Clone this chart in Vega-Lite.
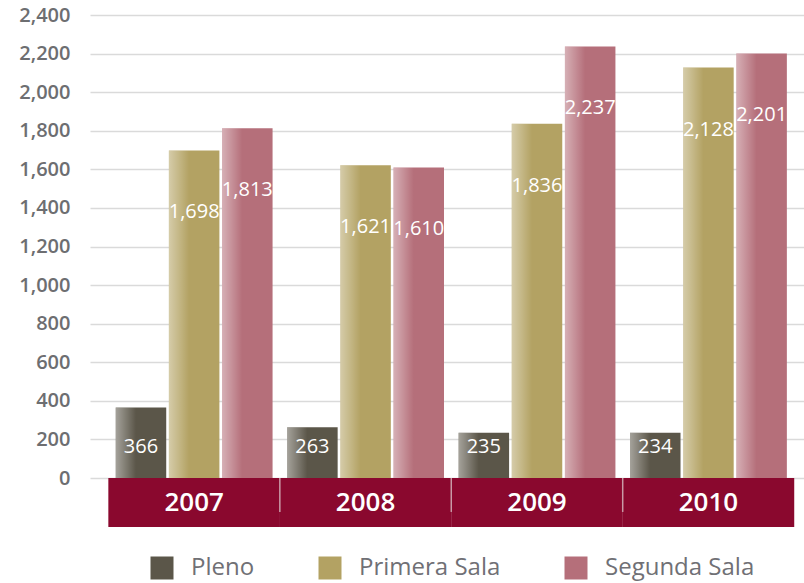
{
  "$schema": "https://vega.github.io/schema/vega-lite/v6.json",
  "width": 714,
  "height": 527,
  "autosize": {"type": "none"},
  "padding": {"left": 90, "top": 0, "right": 0, "bottom": 56},
  "config": {"view": {"stroke": null}, "font": "Open Sans"},
  "datasets": {
    "bars": [
      {"year": "2007", "sala": "Pleno", "casos": 366},
      {"year": "2007", "sala": "Primera Sala", "casos": 1698},
      {"year": "2007", "sala": "Segunda Sala", "casos": 1813},
      {"year": "2008", "sala": "Pleno", "casos": 263},
      {"year": "2008", "sala": "Primera Sala", "casos": 1621},
      {"year": "2008", "sala": "Segunda Sala", "casos": 1610},
      {"year": "2009", "sala": "Pleno", "casos": 235},
      {"year": "2009", "sala": "Primera Sala", "casos": 1836},
      {"year": "2009", "sala": "Segunda Sala", "casos": 2237},
      {"year": "2010", "sala": "Pleno", "casos": 234},
      {"year": "2010", "sala": "Primera Sala", "casos": 2128},
      {"year": "2010", "sala": "Segunda Sala", "casos": 2201}
    ],
    "years": [{"year": "2007"}, {"year": "2008"}, {"year": "2009"}, {"year": "2010"}]
  },
  "layer": [
    {
      "data": {"name": "years"},
      "mark": {"type": "bar", "color": "#8a082e", "width": {"band": 1.094}},
      "encoding": {
        "x": {"field": "year", "type": "nominal", "scale": {"paddingInner": 0.085, "paddingOuter": 0.125, "align": 0.6}, "axis": null},
        "y": {
          "datum": -254, "type": "quantitative",
          "scale": {"domain": [-254, 2478], "nice": false},
          "axis": {
            "values": [0, 200, 400, 600, 800, 1000, 1200, 1400, 1600, 1800, 2000, 2200, 2400],
            "labelExpr": "format(datum.value, ',')", "title": null, "domain": false, "ticks": false,
            "grid": true, "gridColor": "#dadada", "gridWidth": 1.5,
            "labelPadding": 20, "labelFontSize": 20, "labelFontWeight": 600,
            "labelColor": "#6d6e71", "labelFont": "Open Sans"
          }
        },
        "y2": {"datum": 0}
      }
    },
    {
      "data": {"name": "years"},
      "transform": [{"filter": "datum.year != '2007'"}],
      "mark": {"type": "rule", "color": "#c99aa6", "strokeWidth": 1.5, "xOffset": -7.3},
      "encoding": {
        "x": {"field": "year", "type": "nominal", "bandPosition": 0},
        "y": {"datum": -176, "type": "quantitative"},
        "y2": {"datum": 0}
      }
    },
    {
      "data": {"name": "years"},
      "mark": {"type": "text", "color": "white", "fontSize": 26, "fontWeight": 600, "baseline": "middle", "font": "Open Sans"},
      "encoding": {
        "x": {"field": "year", "type": "nominal"},
        "y": {"datum": -128, "type": "quantitative"},
        "text": {"field": "year"}
      }
    },
    {
      "data": {"name": "bars"},
      "mark": {"type": "bar"},
      "encoding": {
        "x": {"field": "year", "type": "nominal"},
        "xOffset": {"field": "sala", "sort": ["Pleno", "Primera Sala", "Segunda Sala"], "scale": {"paddingInner": 0.05}},
        "y": {"field": "casos", "type": "quantitative"},
        "y2": {"datum": 0},
        "color": {
          "field": "sala", "type": "nominal",
          "scale": {"domain": ["Pleno", "Primera Sala", "Segunda Sala"], "range": ["#5b5649", "#b3a263", "#b56f7a"]},
          "legend": {
            "title": null, "orient": "none", "direction": "horizontal",
            "legendX": 60, "legendY": 556, "padding": 0,
            "symbolType": "square", "symbolSize": 529, "symbolStrokeWidth": 0, "symbolOpacity": 1,
            "labelFontSize": 24, "labelColor": "#707075", "labelFont": "Open Sans",
            "labelOffset": 17, "columnPadding": 63
          }
        }
      }
    },
    {
      "data": {"name": "bars"},
      "mark": {
        "type": "bar",
        "fill": {"gradient": "linear", "x1": 0, "x2": 1, "y1": 0, "y2": 0,
          "stops": [{"offset": 0, "color": "rgba(255,255,255,0.45)"}, {"offset": 0.4, "color": "rgba(255,255,255,0)"}]}
      },
      "encoding": {
        "x": {"field": "year", "type": "nominal"},
        "xOffset": {"field": "sala", "sort": ["Pleno", "Primera Sala", "Segunda Sala"]},
        "y": {"field": "casos", "type": "quantitative"},
        "y2": {"datum": 0}
      }
    },
    {
      "data": {"name": "bars"},
      "transform": [{"filter": "datum.sala != 'Pleno'"}],
      "mark": {"type": "text", "color": "white", "fontSize": 20, "baseline": "middle", "dy": 62, "font": "Open Sans"},
      "encoding": {
        "x": {"field": "year", "type": "nominal"},
        "xOffset": {"field": "sala", "sort": ["Pleno", "Primera Sala", "Segunda Sala"]},
        "y": {"field": "casos", "type": "quantitative"},
        "text": {"field": "casos", "type": "quantitative", "format": ","}
      }
    },
    {
      "data": {"name": "bars"},
      "transform": [{"filter": "datum.sala == 'Pleno'"}],
      "mark": {"type": "text", "color": "white", "fontSize": 20, "baseline": "middle", "dy": -31, "font": "Open Sans"},
      "encoding": {
        "x": {"field": "year", "type": "nominal"},
        "xOffset": {"field": "sala", "sort": ["Pleno", "Primera Sala", "Segunda Sala"]},
        "y": {"datum": 0, "type": "quantitative"},
        "text": {"field": "casos", "type": "quantitative", "format": ","}
      }
    }
  ]
}
